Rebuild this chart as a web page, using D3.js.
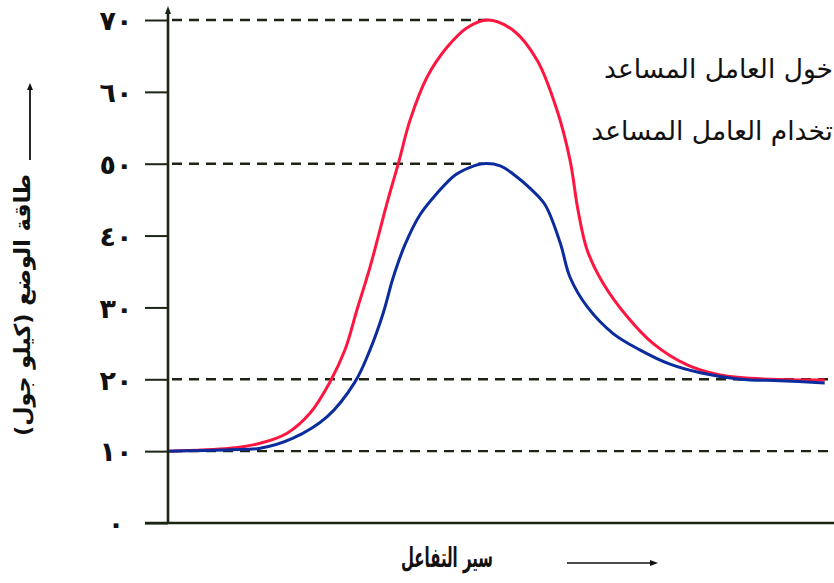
<!DOCTYPE html>
<html>
<head>
<meta charset="utf-8">
<script src="https://cdn.jsdelivr.net/npm/d3@7"></script>
<style>
  html, body { margin: 0; padding: 0; background: #fff; }
  svg { display: block; }
</style>
</head>
<body>
<svg id="chart" width="834" height="583"></svg>
<script>
// ---- data ----
const progress = [0, 9.4, 14.0, 18.1, 21.6, 24.6, 26.9, 28.7, 30.7, 33.4, 35.0, 36.8, 39.4, 42.4, 45.4, 48.6, 52.4, 56.1, 59.1, 61.1, 62.3, 63.7, 66.1, 69.8, 73.7, 78.9, 83.9, 91.5, 99.8];
const uncatalysed = [10, 10.4, 11.1, 12.5, 15.3, 19.6, 24.1, 29.6, 35.6, 44.9, 50.0, 56.1, 62.1, 66.2, 68.9, 70.0, 68.6, 64.4, 57.5, 50.5, 43.6, 38.0, 33.4, 28.7, 25.0, 22.0, 20.6, 20.0, 19.9];
const progressCat = [0, 9.4, 14.0, 19.0, 24.2, 28.4, 30.7, 32.7, 34.2, 36.0, 38.3, 40.9, 43.6, 45.9, 47.9, 50.5, 52.7, 55.0, 57.3, 59.6, 61.1, 63.7, 67.6, 71.7, 76.3, 80.9, 86.9, 93.0, 99.8];
const catalysed = [10, 10.2, 10.4, 11.8, 14.8, 19.6, 24.1, 29.2, 34.1, 38.7, 42.9, 45.9, 48.4, 49.5, 50.0, 49.7, 48.4, 46.6, 44.3, 39.0, 34.2, 30.1, 26.4, 24.1, 22.1, 20.9, 20.0, 19.8, 19.5];
const yTicks = [0, 10, 20, 30, 40, 50, 60, 70];
const yTickLabels = ["٠", "١٠", "٢٠", "٣٠", "٤٠", "٥٠", "٦٠", "٧٠"];
const refLevels = [70, 50, 20, 10];
const refEnds = [48.6, 47.9, 101.3, 101.3];
const legendLabels = ["خول العامل المساعد", "تخدام العامل المساعد"];
const yTitle = "طاقة الوضع (كيلو جول)";
const xTitle = "سير التفاعل";

// ---- layout ----
const svg = d3.select("#chart");
const W = 834, H = 583;
const x = d3.scaleLinear().domain([0, 100]).range([168, 826]);
const y = d3.scaleLinear().domain([0, 70]).range([523, 20]);
const axisColor = "#1c2414";
const arFont = "'DejaVu Sans', sans-serif";

// dashed reference lines
svg.append("g").selectAll("line").data(refLevels).join("line")
  .attr("x1", x(0) + 4).attr("x2", (d, i) => x(refEnds[i]))
  .attr("y1", d => y(d)).attr("y2", d => y(d))
  .attr("stroke", axisColor).attr("stroke-width", 2.4)
  .attr("stroke-dasharray", "10,7");

// curves
const line = d3.line().curve(d3.curveCatmullRom.alpha(0.5));
svg.append("path")
  .attr("d", line(progress.map((p, i) => [x(p), y(uncatalysed[i])])))
  .attr("fill", "none").attr("stroke", "#ff1640").attr("stroke-width", 3);
svg.append("path")
  .attr("d", line(progressCat.map((p, i) => [x(p), y(catalysed[i])])))
  .attr("fill", "none").attr("stroke", "#0b2c9c").attr("stroke-width", 3);

// y axis
const yAxis = d3.axisLeft(y).tickValues(yTicks).tickSize(23)
  .tickFormat((d, i) => yTickLabels[i]);
const gy = svg.append("g").attr("transform", `translate(${x(0)},0)`).call(yAxis);
gy.select(".domain").remove();
gy.selectAll(".tick line").attr("stroke", axisColor).attr("stroke-width", 2);
gy.selectAll(".tick text")
  .attr("x", -52).attr("dy", "0.36em")
  .attr("text-anchor", "middle")
  .attr("fill", "#111")
  .style("font-family", arFont).style("font-weight", "bold").style("font-size", "27px");

// vertical axis line with arrow
svg.append("line").attr("x1", x(0)).attr("x2", x(0)).attr("y1", y(0)).attr("y2", 10)
  .attr("stroke", axisColor).attr("stroke-width", 2.6);
svg.append("path").attr("d", `M${x(0)},6 L${x(0) - 3},14 L${x(0) + 3},14 Z`).attr("fill", axisColor);

// horizontal axis line
svg.append("line").attr("x1", x(0) - 23).attr("x2", W).attr("y1", y(0)).attr("y2", y(0))
  .attr("stroke", axisColor).attr("stroke-width", 2.4);

// legend text (visible part, right-aligned to the edge as in reference)
svg.append("g").selectAll("text").data(legendLabels).join("text")
  .attr("x", 833)
  .attr("y", (d, i) => i === 0 ? 78 : 140)
  .attr("text-anchor", "end")
  .style("font-family", arFont).style("font-size", "26.5px")
  .attr("fill", "#111")
  .text(d => d);

// y title
svg.append("text")
  .attr("transform", "translate(30,305) rotate(-90)")
  .attr("direction", "rtl")
  .attr("text-anchor", "middle")
  .attr("textLength", 262).attr("lengthAdjust", "spacingAndGlyphs")
  .style("font-family", arFont).style("font-weight", "bold").style("font-size", "22px")
  .attr("fill", "#111")
  .text(yTitle);
// y title arrow
svg.append("line").attr("x1", 30).attr("x2", 30).attr("y1", 160).attr("y2", 88)
  .attr("stroke", "#111").attr("stroke-width", 1.8);
svg.append("path").attr("d", "M30,83 L27,90 L33,90 Z").attr("fill", "#111");

// x title
svg.append("text")
  .attr("x", 447).attr("y", 567)
  .attr("text-anchor", "middle")
  .attr("textLength", 92).attr("lengthAdjust", "spacingAndGlyphs")
  .style("font-family", arFont).style("font-weight", "bold").style("font-size", "27px")
  .attr("fill", "#111")
  .text(xTitle);
svg.append("line").attr("x1", 567).attr("x2", 652).attr("y1", 563).attr("y2", 563)
  .attr("stroke", "#111").attr("stroke-width", 1.6);
svg.append("path").attr("d", "M658,563 L650,560 L650,566 Z").attr("fill", "#111");
</script>
</body>
</html>
